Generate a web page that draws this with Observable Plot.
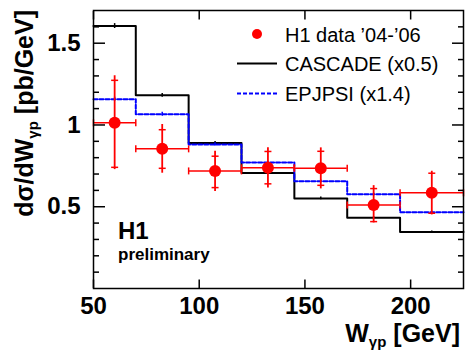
<!DOCTYPE html>
<html><head><meta charset="utf-8">
<script src="https://cdn.jsdelivr.net/npm/d3@7"></script>
<script src="https://cdn.jsdelivr.net/npm/@observablehq/plot@0.6"></script>
<style>html,body{margin:0;padding:0;background:#fff;}</style>
</head><body><div id="chart"></div>
<script>
// ---- data ----
const binEdges   = [50, 70, 95, 120, 145, 170, 195, 225];
const dataX      = [60, 82.5, 107.5, 132.5, 157.5, 182.5, 210];
const dataY      = [1.013, 0.854, 0.719, 0.738, 0.735, 0.511, 0.585];
const statLo     = [0.741, 0.735, 0.617, 0.640, 0.631, 0.409, 0.460];
const statHi     = [1.273, 0.971, 0.809, 0.838, 0.839, 0.611, 0.705];
const totLo      = [0.727, 0.705, 0.593, 0.615, 0.609, 0.401, 0.450];
const totHi      = [1.301, 1.003, 0.839, 0.860, 0.860, 0.629, 0.717];
const cascade    = [1.605, 1.181, 0.889, 0.707, 0.551, 0.432, 0.346];
const cascadeErr = [0.015, 0.012, 0.010, 0.008, 0.008, 0.006, 0.006];
const epjpsi     = [1.158, 1.066, 0.881, 0.770, 0.656, 0.577, 0.466];
const epjpsiErr  = [0.012, 0.012, 0.010, 0.008, 0.008, 0.006, 0.006];
const xTicks     = [50, 100, 150, 200];
const yTicks     = [0.5, 1, 1.5];
const yMinor     = [0.1, 0.2, 0.3, 0.4, 0.6, 0.7, 0.8, 0.9, 1.1, 1.2, 1.3, 1.4, 1.6];
const legendLabels = ["H1 data \u201904-\u201906", "CASCADE (x0.5)", "EPJPSI (x1.4)"];

// ---- derived tables ----
const steps = vals => binEdges.map((x, i) => ({x, y: vals[Math.min(i, vals.length - 1)]}));
const mcErr = (vals, errs) => vals.map((v, i) => ({x: (binEdges[i] + binEdges[i + 1]) / 2, lo: v - errs[i], hi: v + errs[i]}));
const pts = dataX.map((x, i) => ({x, y: dataY[i], x1: binEdges[i], x2: binEdges[i + 1],
  sLo: statLo[i], sHi: statHi[i], tLo: totLo[i], tHi: totHi[i]}));
const caps = pts.flatMap(d => [{x: d.x1, y: d.y}, {x: d.x2, y: d.y}]);
const scaps = pts.flatMap(d => [{x: d.x, y: d.sLo}, {x: d.x, y: d.sHi}]);

const hLine = {draw(ctx, size) { const r = Math.sqrt(size / Math.PI); ctx.moveTo(-r, 0); ctx.lineTo(r, 0); }};
const vLine = {draw(ctx, size) { const r = Math.sqrt(size / Math.PI); ctx.moveTo(0, -r); ctx.lineTo(0, r); }};

const FONT = "Liberation Sans, Arial, Helvetica, sans-serif";
const blank = () => "";

const plot = Plot.plot({
  width: 473, height: 360,
  marginLeft: 93, marginRight: 10, marginTop: 10, marginBottom: 72,
  style: {fontFamily: FONT, background: "#fff", color: "#000"},
  x: {domain: [50, 225]},
  y: {domain: [0, 1.7]},
  marks: [
    // MC histograms
    Plot.line(steps(cascade), {x: "x", y: "y", curve: "step-after", stroke: "#000", strokeWidth: 2}),
    Plot.ruleX(mcErr(cascade, cascadeErr), {x: "x", y1: "lo", y2: "hi", stroke: "#000", strokeWidth: 1.5}),
    Plot.line(steps(epjpsi), {x: "x", y: "y", curve: "step-after", stroke: "#0000ff", strokeWidth: 2, strokeDasharray: "4,2"}),
    Plot.ruleX(mcErr(epjpsi, epjpsiErr), {x: "x", y1: "lo", y2: "hi", stroke: "#0000ff", strokeWidth: 1.5}),
    // data error bars
    Plot.ruleY(pts, {y: "y", x1: "x1", x2: "x2", stroke: "#ff0000", strokeWidth: 1.5}),
    Plot.dot(caps, {x: "x", y: "y", symbol: vLine, r: 3.5, fill: "none", stroke: "#ff0000", strokeWidth: 1.5}),
    Plot.ruleX(pts, {x: "x", y1: "tLo", y2: "tHi", stroke: "#ff0000", strokeWidth: 1.8}),
    Plot.dot(scaps, {x: "x", y: "y", symbol: hLine, r: 3.5, fill: "none", stroke: "#ff0000", strokeWidth: 1.5}),
    Plot.dot(pts, {x: "x", y: "y", r: 6, fill: "#ff0000", stroke: "none"}),
    // frame and axes (ROOT style: inward ticks on all sides)
    Plot.frame({stroke: "#000", strokeWidth: 1.5}),
    Plot.axisY(yTicks, {anchor: "left", tickSize: 0, tickPadding: 13, fontSize: 24, fontWeight: "bold", fontFamily: FONT, label: null, tickFormat: d => String(d)}),
    Plot.axisY(yTicks, {anchor: "left", tickSize: -12, tickFormat: blank, label: null, strokeWidth: 1.5}),
    Plot.axisY(yMinor, {anchor: "left", tickSize: -6, tickFormat: blank, label: null, strokeWidth: 1.5}),
    Plot.axisY(yTicks, {anchor: "right", tickSize: -12, tickFormat: blank, label: null, strokeWidth: 1.5}),
    Plot.axisY(yMinor, {anchor: "right", tickSize: -6, tickFormat: blank, label: null, strokeWidth: 1.5}),
    Plot.axisX(xTicks, {anchor: "bottom", tickSize: 0, tickPadding: 8, fontSize: 24, fontWeight: "bold", fontFamily: FONT, label: null, tickFormat: d => String(d)}),
    Plot.axisX(xTicks, {anchor: "bottom", tickSize: -8.5, tickFormat: blank, label: null, strokeWidth: 1.5}),
    Plot.axisX(xTicks, {anchor: "top", tickSize: -8.5, tickFormat: blank, label: null, strokeWidth: 1.5})
  ]
});

document.getElementById("chart").appendChild(plot);

// ---- titles, legend, annotation ----
const svg = d3.select(plot);
const ann = svg.append("g").attr("font-family", FONT).attr("fill", "#000").attr("text-anchor", "start");

// x title
const xt = ann.append("text").attr("x", 460).attr("y", 342).attr("text-anchor", "end")
  .attr("font-size", 25).attr("font-weight", "bold");
xt.append("tspan").text("W");
xt.append("tspan").attr("font-size", 15).attr("dy", 5).text("\u03b3p");
xt.append("tspan").attr("dy", -5).text(" [GeV]");

// y title
const yt = ann.append("text").attr("transform", "translate(33,10) rotate(-90)").attr("text-anchor", "end")
  .attr("font-size", 25).attr("font-weight", "bold");
yt.append("tspan").text("d\u03c3/dW");
yt.append("tspan").attr("font-size", 15).attr("dy", 5).text("\u03b3p");
yt.append("tspan").attr("dy", -5).text(" [pb/GeV]");

// H1 preliminary
ann.append("text").attr("x", 118).attr("y", 239).attr("text-anchor", "start").attr("font-size", 24).attr("font-weight", "bold").text("H1");
ann.append("text").attr("x", 118).attr("y", 260).attr("text-anchor", "start").attr("font-size", 17).attr("font-weight", "bold").text("preliminary");

// legend
const lg = svg.append("g").attr("font-family", FONT).attr("text-anchor", "start");
lg.append("circle").attr("cx", 257).attr("cy", 34).attr("r", 5).attr("fill", "#ff0000");
lg.append("line").attr("x1", 237).attr("x2", 277).attr("y1", 63.5).attr("y2", 63.5).attr("stroke", "#000").attr("stroke-width", 2);
lg.append("line").attr("x1", 237).attr("x2", 277).attr("y1", 93.5).attr("y2", 93.5).attr("stroke", "#0000ff").attr("stroke-width", 2).attr("stroke-dasharray", "4,2");
legendLabels.forEach((t, i) => {
  lg.append("text").attr("x", 285).attr("y", 41.5 + i * 29.5).attr("text-anchor", "start").attr("font-size", 20).attr("fill", "#000").text(t);
});
</script>
</body></html>
